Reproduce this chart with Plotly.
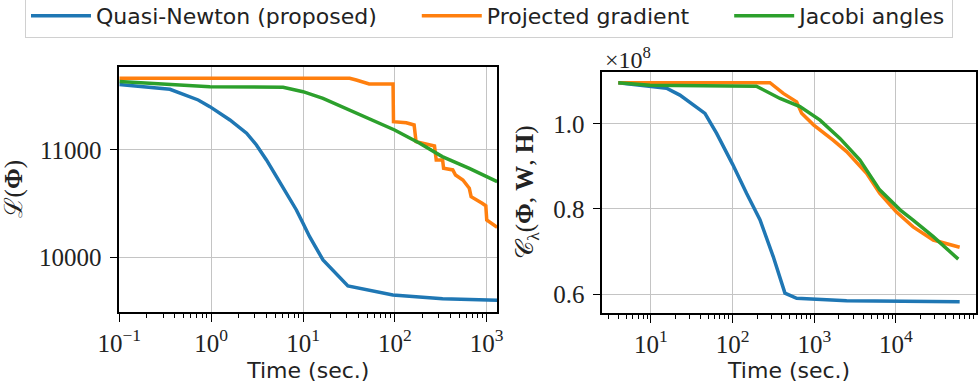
import plotly.graph_objects as go

# ---------------- data ----------------
series_names = ["Quasi-Newton (proposed)", "Projected gradient", "Jacobi angles"]
series_colors = ["#1f77b4", "#ff7f0e", "#2ca02c"]

# Left panel: L(Phi) vs time (sec.)
left_qn_t = [0.1, 0.356, 0.723, 0.968, 1.60, 2.43, 3.11, 4.0, 5.14, 6.61, 8.47, 10.0, 11.8, 16.5,
             22.4, 30.8, 95.1, 331, 1300]
left_qn_v = [11610, 11566, 11466, 11404, 11280, 11156, 11047, 10907, 10751, 10596, 10441, 10317,
             10192, 9975, 9851, 9733, 9649, 9614, 9600]

left_pg_t = [0.1, 32.2, 38.0, 52.5, 95.5, 96.6, 133, 162, 170, 270, 282, 331, 339, 427, 457,
             550, 646, 676, 891, 977, 1000, 1300]
left_pg_v = [11668, 11668, 11652, 11615, 11615, 11264, 11254, 11233, 11078, 11037, 10907, 10907,
             10829, 10814, 10767, 10720, 10643, 10565, 10503, 10480, 10348, 10280]

left_ja_t = [0.1, 0.968, 6.07, 10.0, 16.5, 32.2, 62.8, 99.3, 186, 328, 646, 1300]
left_ja_v = [11637, 11590, 11584, 11543, 11481, 11373, 11264, 11186, 11062, 10938, 10829, 10705]

# Right panel: C_lambda(Phi, W, H) in units of 1e8 vs time (sec.)
right_qn_t = [3.98, 9.73, 15.5, 22.6, 33.0, 45.8, 63.7, 100, 148, 216, 314, 437, 608, 2489, 60256]
right_qn_v = [1.097, 1.089, 1.084, 1.068, 1.045, 1.025, 0.978, 0.905, 0.837, 0.775, 0.688,
              0.602, 0.590, 0.584, 0.582]

right_pg_t = [3.98, 286, 417, 608, 700, 977, 1698, 2489, 4365, 6310, 10000, 16218, 28642, 60256]
right_pg_v = [1.097, 1.097, 1.072, 1.052, 1.025, 0.998, 0.962, 0.935, 0.884, 0.837, 0.794,
              0.758, 0.727, 0.710]

right_ja_t = [3.98, 9.73, 195, 380, 667, 1175, 2061, 3622, 6310, 11220, 16218, 28642, 57943]
right_ja_v = [1.097, 1.091, 1.089, 1.060, 1.041, 1.009, 0.966, 0.915, 0.845, 0.798, 0.774,
              0.735, 0.682]

# Tick labels
left_xtick_vals = [0.1, 1, 10, 100, 1000]
left_xtick_text = ["10<sup>−1</sup>", "10<sup>0</sup>", "10<sup>1</sup>", "10<sup>2</sup>", "10<sup>3</sup>"]
left_ytick_vals = [10000, 11000]
left_ytick_text = ["10000", "11000"]
right_xtick_vals = [10, 100, 1000, 10000]
right_xtick_text = ["10<sup>1</sup>", "10<sup>2</sup>", "10<sup>3</sup>", "10<sup>4</sup>"]
right_ytick_vals = [0.6, 0.8, 1.0]
right_ytick_text = ["0.6", "0.8", "1.0"]

# ---------------- figure ----------------
W, H = 978, 383
serif = "Liberation Serif, Times New Roman, serif"
sans = "DejaVu Sans, sans-serif"
NB = "\u00a0"
legend_pad = [NB * 5, NB * 5, ""]

fig = go.Figure()
left_sets = [(left_qn_t, left_qn_v), (left_pg_t, left_pg_v), (left_ja_t, left_ja_v)]
right_sets = [(right_qn_t, right_qn_v), (right_pg_t, right_pg_v), (right_ja_t, right_ja_v)]
for i, (t, v) in enumerate(left_sets):
    fig.add_trace(go.Scatter(x=t, y=v, mode="lines", name=series_names[i] + legend_pad[i],
                             line=dict(color=series_colors[i], width=3.5),
                             xaxis="x", yaxis="y", showlegend=True))
for i, (t, v) in enumerate(right_sets):
    fig.add_trace(go.Scatter(x=t, y=v, mode="lines", name=series_names[i],
                             line=dict(color=series_colors[i], width=3.5),
                             xaxis="x2", yaxis="y2", showlegend=False))

def px_x(p):
    return p / W

def px_y(p):
    return (H - p) / H

common_axis = dict(showline=True, mirror=True, linecolor="black", linewidth=1.6,
                   showgrid=True, gridcolor="#c4c4c4", gridwidth=1.2,
                   ticks="outside", ticklen=8, tickwidth=1.3, tickcolor="black",
                   tickfont=dict(family=serif, size=25, color="#222"),
                   zeroline=False, automargin=False)

xminor = dict(dtick="D1", ticks="outside", ticklen=4.5, tickwidth=1, tickcolor="black", showgrid=False)

fig.update_layout(
    width=W, height=H,
    margin=dict(l=0, r=0, t=0, b=0, autoexpand=False),
    paper_bgcolor="white", plot_bgcolor="white",
    showlegend=True,
    legend=dict(orientation="h", x=px_x(25), y=1.016, xanchor="left", yanchor="top",
                font=dict(family=sans, size=22, color="#222"),
                bordercolor="#d0d0d0", borderwidth=1, bgcolor="white",
                itemwidth=60),
    xaxis=dict(common_axis, type="log", domain=[px_x(119.3), px_x(497.3)],
               range=[-1, 3.115], anchor="y",
               tickmode="array", tickvals=left_xtick_vals, ticktext=left_xtick_text,
               minor=xminor, ticklabelstandoff=0,
               title=dict(text="Time (sec.)", font=dict(family=sans, size=22, color="#222"), standoff=19)),
    yaxis=dict(common_axis, domain=[px_y(311.7), px_y(66.7)], range=[9493, 11776], anchor="x",
               tickmode="array", tickvals=left_ytick_vals, ticktext=left_ytick_text,
               ticklabelstandoff=3,
               title=dict(text="ℒ(<b>Φ</b>)", font=dict(family=serif, size=25, color="#222"), standoff=10)),
    xaxis2=dict(common_axis, type="log", domain=[px_x(602.3), px_x(976)],
                range=[0.404, 4.98], anchor="y2",
                tickmode="array", tickvals=right_xtick_vals, ticktext=right_xtick_text,
                minor=xminor, ticklabelstandoff=0,
                title=dict(text="Time (sec.)", font=dict(family=sans, size=22, color="#222"), standoff=19)),
    yaxis2=dict(common_axis, domain=[px_y(312.7), px_y(71.7)], range=[0.556, 1.123], anchor="x2",
                tickmode="array", tickvals=right_ytick_vals, ticktext=right_ytick_text,
                ticklabelstandoff=3,
                title=dict(text="𝒞<sub>λ</sub>(<b>Φ</b>, <b>W</b>, <b>H</b>)",
                           font=dict(family=serif, size=25, color="#222"), standoff=12)),
    annotations=[dict(text="×10<sup>8</sup>", xref="paper", yref="paper",
                      x=px_x(603), y=px_y(75), xanchor="left", yanchor="bottom",
                      showarrow=False, font=dict(family=serif, size=24, color="#222"))],
)

fig.write_html("out.html")
